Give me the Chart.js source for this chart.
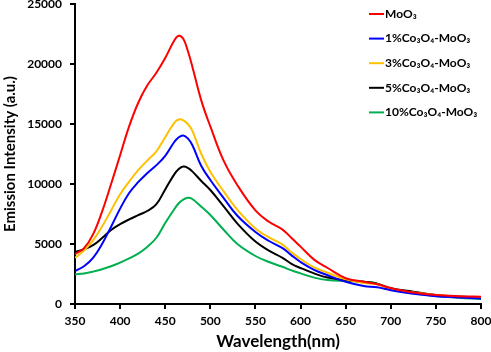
<!DOCTYPE html>
<html>
<head>
<meta charset="utf-8">
<script src="https://cdn.jsdelivr.net/npm/chart.js@4.4.1/dist/chart.umd.min.js"></script>
<style>
html,body{margin:0;padding:0;background:#fff;}
#wrap{width:491px;height:352px;position:relative;}
</style>
</head>
<body>
<div id="wrap"><canvas id="c" width="491" height="352"></canvas></div>
<script>
const wavelengths = [350,360,370,380,390,400,410,420,430,440,450,460,465,470,475,480,490,500,515,530,550,565,580,590,600,615,630,650,670,685,700,725,750,775,800];
const moo3 = [4150,4650,5800,7700,10000,12400,14800,16750,18200,19250,20500,21950,22350,22100,21100,19800,16950,14800,11900,9900,7800,6850,6200,5500,4780,3700,3000,2150,1850,1650,1330,950,750,650,600];
const co1  = [2750,3150,3850,5000,6440,7950,9250,10150,10900,11550,12350,13500,13900,14050,13800,13250,11500,10330,8810,7350,6000,5250,4650,4050,3500,2850,2400,1850,1500,1400,1150,850,650,550,450];
const co3  = [3850,4450,5300,6450,7800,9150,10200,11150,11950,12700,13900,15100,15380,15300,15000,14450,12500,11030,9360,7850,6300,5550,4950,4300,3750,3050,2600,2050,1750,1650,1250,950,750,600,500];
const co5  = [4350,4550,4900,5500,6170,6650,7050,7400,7750,8300,9550,10800,11250,11450,11350,11050,10250,9500,8110,6700,5200,4450,3850,3350,3000,2550,2200,2000,1850,1700,1310,1030,750,620,530];
const co10 = [2480,2550,2700,2900,3150,3450,3800,4200,4750,5500,6750,7900,8400,8700,8850,8750,8100,7420,6170,5000,4000,3500,3100,2800,2550,2200,2000,1920,1850,1700,1220,890,670,520,420];
const seriesLabels = ['MoO₃','1%Co₃O₄-MoO₃','3%Co₃O₄-MoO₃','5%Co₃O₄-MoO₃','10%Co₃O₄-MoO₃'];
const seriesColors = ['#FF0000','#0000FF','#FFC000','#000000','#00B050'];
const yTicks = [0,5000,10000,15000,20000,25000];
const xTicks = [350,400,450,500,550,600,650,700,750,800];

const FONT = 'Lato, "Open Sans", "DejaVu Sans", sans-serif';
const allSeries = [moo3, co1, co3, co5, co10];
const datasets = allSeries.map((arr, i) => ({
  label: seriesLabels[i],
  data: wavelengths.map((w, j) => ({x: w, y: arr[j]})),
  borderColor: seriesColors[i],
  backgroundColor: seriesColors[i],
  borderWidth: 2,
  pointRadius: 0,
  tension: 0.4,
  fill: false
}));

const legendPlugin = {
  id: 'customLegend',
  afterDraw(chart) {
    const ctx = chart.ctx;
    ctx.save();
    ctx.font = 'bold 12px ' + FONT;
    ctx.textBaseline = 'middle';
    chart.data.datasets.forEach((ds, i) => {
      const y = 14 + i * 24.6;
      ctx.strokeStyle = ds.borderColor;
      ctx.lineWidth = 2;
      ctx.beginPath();
      ctx.moveTo(369, y);
      ctx.lineTo(384, y);
      ctx.stroke();
      ctx.fillStyle = '#000';
      ctx.fillText(ds.label, 385, y);
    });
    ctx.restore();
  }
};

new Chart(document.getElementById('c'), {
  type: 'line',
  data: { datasets },
  plugins: [legendPlugin],
  options: {
    responsive: false,
    animation: false,
    layout: { padding: { left: 0, right: 10, top: 4, bottom: 0 } },
    plugins: { legend: { display: false }, tooltip: { enabled: false } },
    scales: {
      x: {
        type: 'linear',
        min: 350, max: 800,
        afterBuildTicks: (s) => { s.ticks = xTicks.map(v => ({value: v})); },
        afterFit: (s) => { s.height = 48; s.paddingLeft = 0; s.paddingRight = 0; },
        grid: { display: true, drawOnChartArea: false, drawTicks: true, tickLength: 5, color: '#000', lineWidth: 2 },
        border: { display: true, color: '#000', width: 2 },
        ticks: { color: '#000', font: { family: FONT, weight: 'bold', size: 12 }, padding: 5, maxRotation: 0,
                 callback: (v) => String(v) },
        title: { display: true, text: 'Wavelength(nm)', color: '#000', font: { family: FONT, weight: 'bold', size: 17 }, padding: { top: 2, bottom: 0 } }
      },
      y: {
        min: 0, max: 25000,
        afterBuildTicks: (s) => { s.ticks = yTicks.map(v => ({value: v})); },
        afterFit: (s) => { s.width = 75; s.paddingTop = 0; s.paddingBottom = 0; },
        grid: { display: true, drawOnChartArea: false, drawTicks: true, tickLength: 5, color: '#000', lineWidth: 2 },
        border: { display: true, color: '#000', width: 2 },
        ticks: { color: '#000', font: { family: FONT, weight: 'bold', size: 12 }, padding: 8,
                 callback: (v) => String(v) },
        title: { display: true, text: 'Emission Intensity (a.u.)', color: '#000', font: { family: FONT, weight: 'bold', size: 15 }, padding: { top: 1, bottom: 0 } }
      }
    }
  }
});
</script>
</body>
</html>
